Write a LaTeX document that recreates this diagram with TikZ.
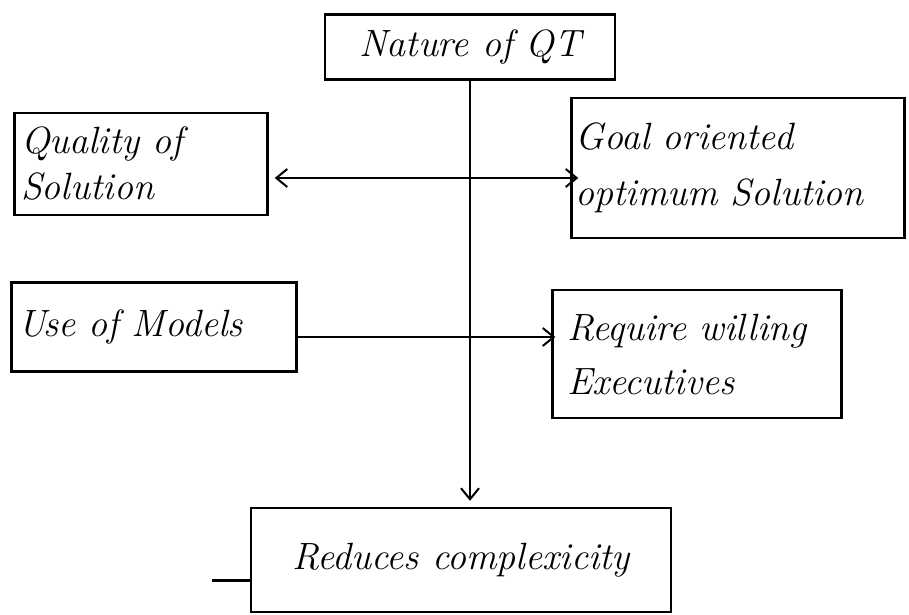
\documentclass[tikz,border=0pt]{standalone}
\usetikzlibrary{arrows.meta,calc}
\begin{document}
\begin{tikzpicture}[x=1pt,y=-1pt,
  box/.style={draw,line width=2.4pt,minimum width=#1,inner sep=0pt,font=\fontsize{38}{46}\selectfont\itshape},
  conn/.style={line width=2.2pt,-{Straight Barb[length=11pt,width=18pt,line width=2pt]}},
  dconn/.style={line width=2.2pt,{Straight Barb[length=11pt,width=18pt,line width=2pt]}-{Straight Barb[length=11pt,width=18pt,line width=2pt]}}]
\useasboundingbox (0,0) rectangle (909,614);
\node[box=290pt,minimum height=65pt] (top) at (470,47) {Nature of QT};
\node[box=253pt,minimum height=102pt,align=left,text width=240pt] (qual) at (141,164) {Quality of\\Solution};
\node[box=333pt,minimum height=140pt,align=left,text width=325pt] (goal) at (738,168) {Goal oriented\\[10pt]optimum Solution};
\node[box=285pt,minimum height=89pt,align=left,text width=272pt] (use) at (154,327) {Use of Models};
\node[box=289pt,minimum height=128pt,align=left,text width=260pt] (req) at (697,354) {Require willing\\[8pt]Executives};
\node[box=420pt,minimum height=104pt] (red) at (461,560) {Reduces complexicity};
\draw[conn,shorten >=6pt] (top.south) -- (top.south |- red.north);
\draw[dconn,shorten <=6pt,shorten >=-8pt] ([yshift=-14pt]qual.east) -- ([yshift=-10pt]goal.west);
\draw[conn,shorten >=-4pt] ([yshift=-10pt]use.east) -- ([yshift=17pt]req.west);
\coordinate (mark) at (212,580);
\draw[line width=3pt] (mark) -- (red.west |- mark);
\end{tikzpicture}
\end{document}
